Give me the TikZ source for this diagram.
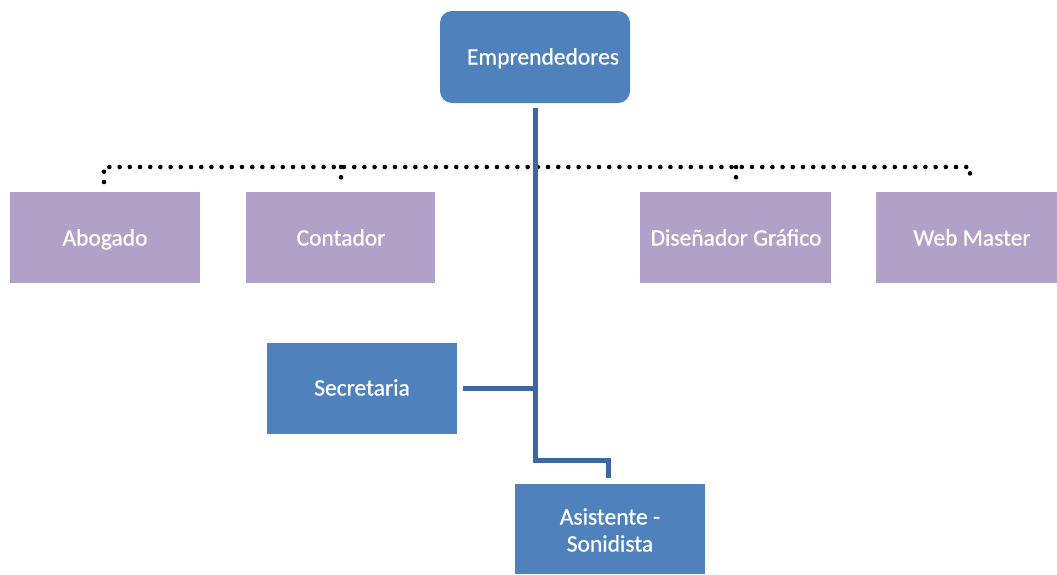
\documentclass[tikz,border=0pt]{standalone}
\usepackage{fontspec}
\setmainfont{Carlito}[FakeBold=0.7]
\definecolor{boxblue}{HTML}{4F81BD}
\definecolor{boxlav}{HTML}{B1A0C7}
\definecolor{linkblue}{HTML}{3D67A0}
\begin{document}
\begin{tikzpicture}[x=1pt,y=-1pt,
  bluebox/.style={fill=boxblue,draw=none},
  lavbox/.style={fill=boxlav,draw=none},
  lbl/.style={text=white,font=\fontsize{23.5}{27}\selectfont,align=center},
  onel/.style={lbl,text height=16pt,text depth=5pt},
  solidlink/.style={draw=linkblue,line width=5pt},
  dotlink/.style={draw=black,line width=4.6pt,line cap=round,dash pattern=on 0pt off 10.2pt}]
\useasboundingbox (0,0) rectangle (1057,574);
% boxes
\fill[bluebox,rounded corners=12pt] (440,11) rectangle (630,103);
\node[onel] (emp) at (543,59) {Emprendedores};
\coordinate (empb) at (535,103);
\fill[lavbox] (10,192) rectangle (200,283);
\node[onel] (abo) at (105,240) {Abogado};
\fill[lavbox] (246,192) rectangle (435,283);
\node[onel] (con) at (341,240) {Contador};
\fill[lavbox] (640,192) rectangle (831,283);
\node[onel] (dis) at (736,240) {Diseñador Gráfico};
\fill[lavbox] (876,192) rectangle (1057,283);
\node[onel] (web) at (972,240) {Web Master};
\fill[bluebox] (267,343) rectangle (457,434);
\node[onel] (sec) at (362,390) {Secretaria};
\fill[bluebox] (515,484) rectangle (705,574);
\node[lbl] (asi) at (610,530) {Asistente -\\Sonidista};
% dotted assistants line
\coordinate (dL) at (104,167);
\coordinate (dR) at (970,167);
\draw[dotlink] (104,182) -- (dL) -- (dR) -- (970,182);
\draw[dotlink] (341,167) -- (341,179);
\draw[dotlink] (736,167) -- (736,182);
% solid links
\coordinate (j1) at (535,388);
\coordinate (j2) at (535,460);
\coordinate (j3) at (608,460);
\draw[solidlink] (535,108) -- (j2) -- (j3) -- (608,478);
\draw[solidlink] (463,388) -- (j1);
\end{tikzpicture}
\end{document}
